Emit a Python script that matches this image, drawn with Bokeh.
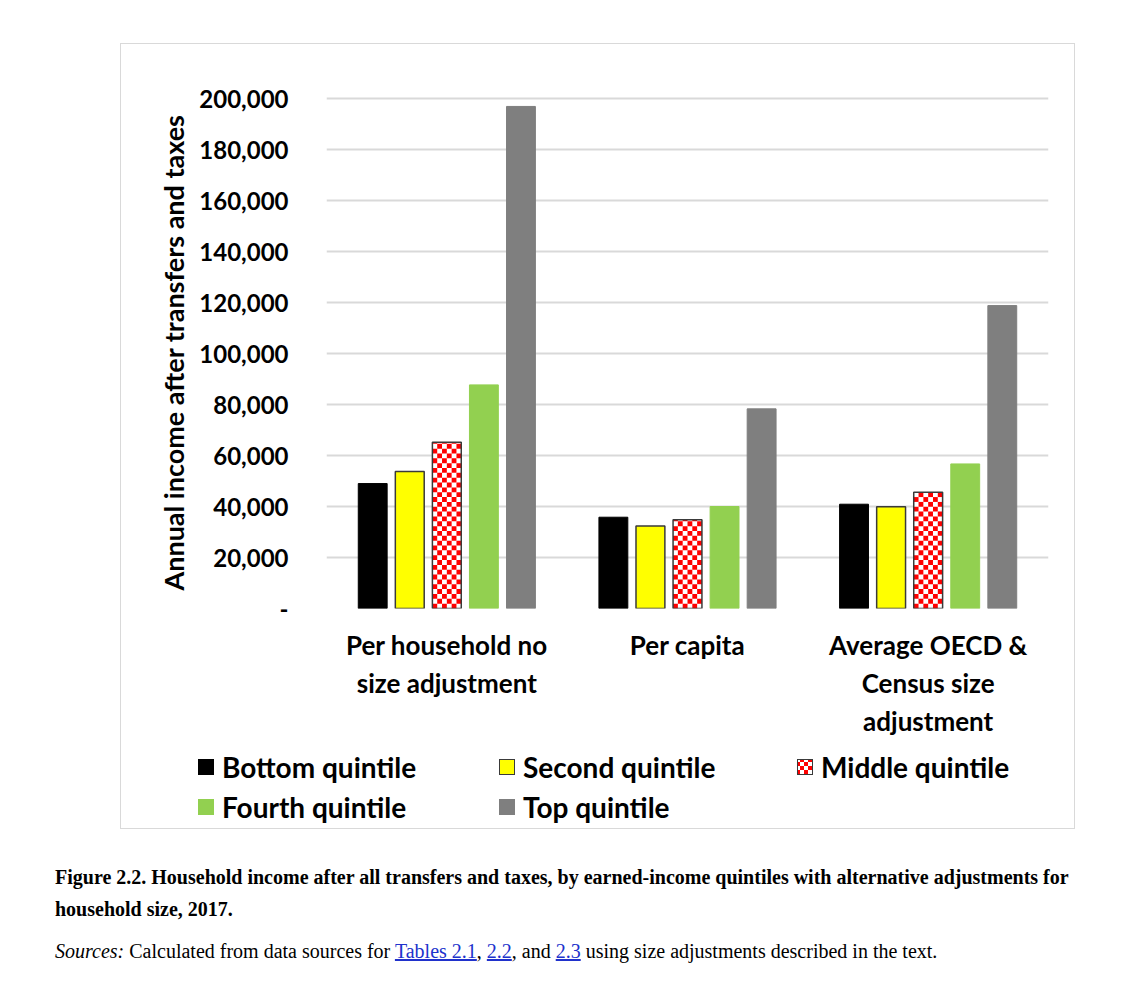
import math
from bokeh.plotting import figure
from bokeh.layouts import column
from bokeh.models import (ColumnDataSource, FactorRange, Range1d, FixedTicker, NumeralTickFormatter, Div)
from bokeh.transform import dodge
from bokeh.embed import file_html
from bokeh.resources import INLINE

# ---------------- data ----------------
categories = ["Per household no\nsize adjustment", "Per capita", "Average OECD &\nCensus size\nadjustment"]
series_names = ["Bottom quintile", "Second quintile", "Middle quintile", "Fourth quintile", "Top quintile"]
bottom_q = [49000, 35800, 40900]
second_q = [53700, 32400, 39900]
middle_q = [65200, 34800, 45600]
fourth_q = [87700, 40000, 56700]
top_q = [196900, 78300, 118800]
y_ticks = [0, 20000, 40000, 60000, 80000, 100000, 120000, 140000, 160000, 180000, 200000]

caption_1 = "Figure 2.2. Household income after all transfers and taxes, by earned-income quintiles with alternative adjustments for"
caption_2 = "household size, 2017."
sources_label = "Sources:"
sources_text = ["Calculated from data sources for", "Tables 2.1", ",", "2.2", ", and", "2.3",
                "using size adjustments described in the text."]

colors = ["#000000", "#FFFF00", "#FF0000", "#92D050", "#7F7F7F"]
outline = ["#000000", "#3a3a3a", "#3a3a3a", "#92D050", "#7F7F7F"]

FONT = "Lato"
BORDER = "1.5px solid #d9d9d9"

src = ColumnDataSource(dict(cat=categories, b=bottom_q, s=second_q, m=middle_q, f=fourth_q, t=top_q))

# ---------------- chart (upper part of the bordered box) ----------------
p = figure(x_range=FactorRange(factors=categories), y_range=Range1d(0, 200800),
           width=955, height=707, output_backend="svg", toolbar_location=None,
           min_border_left=205, min_border_right=28, min_border_top=52, min_border_bottom=143)
p.margin = (43, 0, 0, 120)
p.styles = {"border-top": BORDER, "border-left": BORDER, "border-right": BORDER}
p.outline_line_color = None
p.background_fill_color = "white"
p.border_fill_color = "white"

W = 0.12
P = 0.154
p.vbar(x=dodge("cat", -2 * P, range=p.x_range), top="b", width=W, source=src,
       fill_color=colors[0], line_color=outline[0], line_width=1)
p.vbar(x=dodge("cat", -P, range=p.x_range), top="s", width=W, source=src,
       fill_color=colors[1], line_color=outline[1], line_width=1.5)
p.vbar(x=dodge("cat", 0, range=p.x_range), top="m", width=W, source=src,
       fill_color="#ffffff", line_color=None)

# checkerboard cells of the middle-quintile bars (derived from the bar values)
NC = 6
cw = W / NC
ch = 1900.0
for c in range(NC):
    cats, y0, y1 = [], [], []
    for cat, v in zip(categories, middle_q):
        for r in range(int(math.ceil(v / ch))):
            if (r + c) % 2 == 0:
                cats.append(cat)
                y0.append(r * ch)
                y1.append(min((r + 1) * ch, v))
    csrc = ColumnDataSource(dict(cat=cats, y0=y0, y1=y1))
    p.vbar(x=dodge("cat", -W / 2 + (c + 0.5) * cw, range=p.x_range), bottom="y0", top="y1",
           width=cw, source=csrc, fill_color=colors[2], line_color=None)
p.vbar(x=dodge("cat", 0, range=p.x_range), top="m", width=W, source=src,
       fill_alpha=0, line_color=outline[2], line_width=1.5)

p.vbar(x=dodge("cat", P, range=p.x_range), top="f", width=W, source=src,
       fill_color=colors[3], line_color=outline[3], line_width=1)
p.vbar(x=dodge("cat", 2 * P, range=p.x_range), top="t", width=W, source=src,
       fill_color=colors[4], line_color=outline[4], line_width=1)

p.xgrid.grid_line_color = None
p.ygrid.grid_line_color = "#d9d9d9"
p.ygrid.grid_line_width = 2

p.yaxis.ticker = FixedTicker(ticks=y_ticks)
p.yaxis.formatter = NumeralTickFormatter(format="0,0")
p.yaxis.major_label_overrides = {0: "-"}
p.yaxis.axis_line_color = None
p.yaxis.major_tick_line_color = None
p.yaxis.minor_tick_line_color = None
p.yaxis.major_tick_out = 0
p.yaxis.major_tick_in = 0
p.yaxis.major_label_standoff = 38
p.yaxis.major_label_text_font = FONT
p.yaxis.major_label_text_font_style = "bold"
p.yaxis.major_label_text_font_size = "24px"
p.yaxis.major_label_text_color = "#000000"
p.yaxis.axis_label = "Annual income after transfers and taxes"
p.yaxis.axis_label_text_font = FONT
p.yaxis.axis_label_text_font_style = "bold"
p.yaxis.axis_label_text_font_size = "27px"
p.yaxis.axis_label_text_color = "#000000"
p.yaxis.axis_label_standoff = 6

p.xaxis.axis_line_color = None
p.xaxis.major_tick_line_color = None
p.xaxis.minor_tick_line_color = None
p.xaxis.major_tick_out = 0
p.xaxis.major_tick_in = 0
p.xaxis.major_label_standoff = 20
p.xaxis.major_label_text_font = FONT
p.xaxis.major_label_text_font_style = "bold"
p.xaxis.major_label_text_font_size = "26px"
p.xaxis.major_label_text_color = "#000000"

# ---------------- legend (lower part of the bordered box) ----------------
col_x = [77, 378, 676]
row_y = [17, 57]
parts = ['<div style="position:relative;width:955px;height:79px;font-family:Lato,sans-serif;'
         'font-weight:bold;font-size:28px;color:#000;white-space:nowrap">']
for i, (name, fc, lc) in enumerate(zip(series_names, colors, outline)):
    gx = col_x[i % 3]
    cy = row_y[i // 3]
    if i == 2:
        fill = ("background-color:#fff;background-image:repeating-conic-gradient(#ff0000 0 25%, #ffffff 0 50%);"
                "background-size:8px 8px;background-position:-2px -2px;")
    else:
        fill = f"background-color:{fc};"
    bw = 1.5 if lc != fc else 0
    parts.append(f'<div style="position:absolute;left:{gx}px;top:{cy - 8}px;width:16px;height:16px;'
                 f'box-sizing:border-box;{fill}border:{bw}px solid {lc}"></div>')
    parts.append(f'<div style="position:absolute;left:{gx + 24}px;top:{cy - 17}px;line-height:34px">{name}</div>')
parts.append('</div>')
leg = Div(text="".join(parts), width=955, height=79)
leg.margin = (0, 0, 0, 120)
leg.styles = {"border-bottom": BORDER, "border-left": BORDER, "border-right": BORDER}

# ---------------- caption ----------------
link = "color:#2032cc;text-decoration:underline"
html = (
    '<div style="font-family:\'Liberation Serif\',\'Times New Roman\',serif;color:#000;'
    'padding-left:50px;padding-top:27px;white-space:nowrap">'
    '<div style="font-weight:bold;font-size:20px;line-height:32px">'
    f'{caption_1}<br>{caption_2}</div>'
    '<div style="font-size:20px;line-height:32px;margin-top:10px">'
    f'<i>{sources_label}</i> {sources_text[0]} <span style="{link}">{sources_text[1]}</span>{sources_text[2]} '
    f'<span style="{link}">{sources_text[3]}</span>{sources_text[4]} '
    f'<span style="{link}">{sources_text[5]}</span> {sources_text[6]}</div>'
    '</div>'
)
cap = Div(text=html, width=1136, height=147)

layout = column(p, leg, cap, spacing=0)
open("out.html", "w").write(file_html(layout, INLINE))
